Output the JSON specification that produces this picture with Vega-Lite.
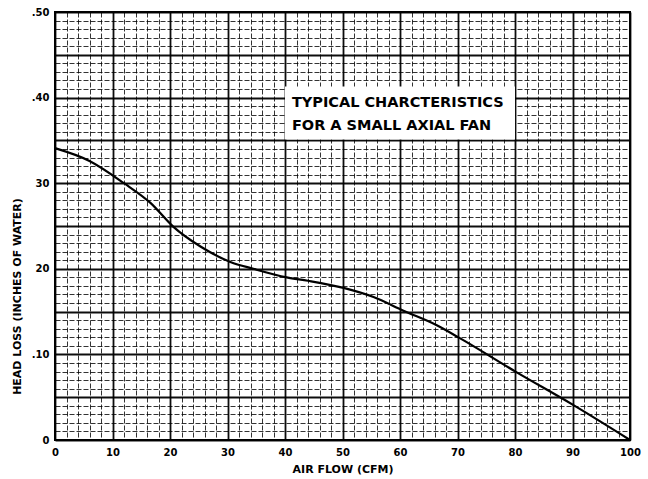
{
  "$schema": "https://vega.github.io/schema/vega-lite/v6.json",
  "width": 575,
  "height": 428,
  "autosize": "none",
  "padding": {"left": 55, "top": 12, "right": 18, "bottom": 39},
  "background": "white",
  "config": {
    "view": {"stroke": "black", "strokeWidth": 2},
    "font": "DejaVu Sans",
    "axis": {"labelFont": "DejaVu Sans", "labelFontWeight": "bold", "titleFont": "DejaVu Sans", "titleFontWeight": "bold"}
  },
  "datasets": {
    "curve": [
      {"flow": 0, "head": 0.341},
      {"flow": 6, "head": 0.326},
      {"flow": 12, "head": 0.300},
      {"flow": 16.6, "head": 0.277},
      {"flow": 20.6, "head": 0.249},
      {"flow": 25.3, "head": 0.226},
      {"flow": 30.5, "head": 0.208},
      {"flow": 34.5, "head": 0.200},
      {"flow": 40.3, "head": 0.190},
      {"flow": 44, "head": 0.186},
      {"flow": 50, "head": 0.178},
      {"flow": 55.4, "head": 0.167},
      {"flow": 60.6, "head": 0.151},
      {"flow": 66.4, "head": 0.134},
      {"flow": 70.4, "head": 0.119},
      {"flow": 80.3, "head": 0.079},
      {"flow": 90.1, "head": 0.041},
      {"flow": 100, "head": 0.0}
    ],
    "box": [{"x1": 40, "x2": 80, "y1": 0.351, "y2": 0.413}],
    "notes": [
      {"x": 41.2, "y": 0.394, "text": "TYPICAL CHARCTERISTICS"},
      {"x": 41.2, "y": 0.367, "text": "FOR A SMALL AXIAL FAN"}
    ]
  },
  "layer": [
    {
      "data": {"name": "box"},
      "mark": {"type": "rect", "fill": "white", "stroke": null},
      "encoding": {
        "x": {"field": "x1", "type": "quantitative", "scale": {"domain": [0, 100], "nice": false},
          "axis": {
            "values": [0,2,4,6,8,10,12,14,16,18,20,22,24,26,28,30,32,34,36,38,40,42,44,46,48,50,52,54,56,58,60,62,64,66,68,70,72,74,76,78,80,82,84,86,88,90,92,94,96,98,100],
            "tickCount": 100,
            "labelExpr": "datum.value % 10 === 0 ? datum.label : ''",
            "labelOverlap": false, "labelFlush": false, "labelBound": false,
            "ticks": false, "domain": false,
            "labelFontSize": 10, "labelColor": "black", "labelPadding": 7,
            "gridColor": "black",
            "gridWidth": {"condition": {"test": "datum.value % 10 === 0", "value": 1.8}, "value": 1},
            "gridDash": {"condition": {"test": "datum.value % 10 === 0", "value": []}, "value": [5, 2]},
            "gridOpacity": {"condition": {"test": "datum.value % 10 === 0", "value": 0.95}, "value": 0.8},
            "title": "AIR FLOW (CFM)", "titleFontSize": 11, "titlePadding": 6, "titleColor": "black"
          }},
        "x2": {"field": "x2"},
        "y": {"field": "y1", "type": "quantitative", "scale": {"domain": [0, 0.5], "nice": false},
          "axis": {
            "values": [0,0.01,0.02,0.03,0.04,0.05,0.06,0.07,0.08,0.09,0.1,0.11,0.12,0.13,0.14,0.15,0.16,0.17,0.18,0.19,0.2,0.21,0.22,0.23,0.24,0.25,0.26,0.27,0.28,0.29,0.3,0.31,0.32,0.33,0.34,0.35,0.36,0.37,0.38,0.39,0.4,0.41,0.42,0.43,0.44,0.45,0.46,0.47,0.48,0.49,0.5],
            "tickCount": 100,
            "labelOverlap": false, "labelFlush": false, "labelBound": false,
            "labelExpr": "round(datum.value*100) === 0 ? '0' : round(datum.value*100) === 10 ? '.10' : round(datum.value*100) === 20 ? '20' : round(datum.value*100) === 30 ? '30' : round(datum.value*100) === 40 ? '.40' : round(datum.value*100) === 50 ? '.50' : ''",
            "ticks": false, "domain": false,
            "labelFontSize": 10, "labelColor": "black", "labelPadding": 6,
            "gridColor": "black",
            "gridWidth": {"condition": {"test": "round(datum.value*100) % 5 === 0", "value": 1.8}, "value": 1},
            "gridDash": {"condition": {"test": "round(datum.value*100) % 5 === 0", "value": []}, "value": [5, 2]},
            "gridOpacity": {"condition": {"test": "round(datum.value*100) % 5 === 0", "value": 0.95}, "value": 0.8},
            "title": "HEAD LOSS (INCHES OF WATER)", "titleFontSize": 11, "titleColor": "black",
            "titleX": -33, "titleY": 284, "titleAnchor": "middle"
          }},
        "y2": {"field": "y2"}
      }
    },
    {
      "data": {"name": "notes"},
      "mark": {"type": "text", "align": "left", "baseline": "middle", "fontSize": 14.5, "fontWeight": "bold", "font": "DejaVu Sans", "color": "black"},
      "encoding": {
        "x": {"field": "x", "type": "quantitative"},
        "y": {"field": "y", "type": "quantitative"},
        "text": {"field": "text", "type": "nominal"}
      }
    },
    {
      "data": {"name": "curve"},
      "mark": {"type": "line", "color": "black", "strokeWidth": 2.2, "interpolate": "monotone"},
      "encoding": {
        "x": {"field": "flow", "type": "quantitative"},
        "y": {"field": "head", "type": "quantitative"}
      }
    }
  ]
}
